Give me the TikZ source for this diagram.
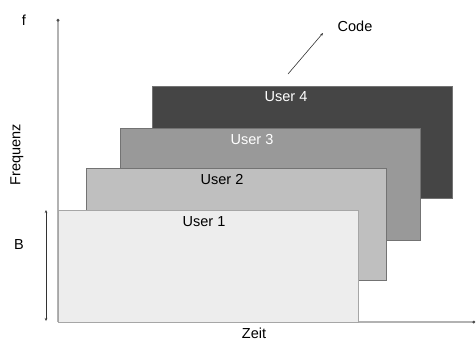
\documentclass[tikz,border=0pt]{standalone}
\usepackage{fontspec}
\setmainfont{Liberation Sans}
\usetikzlibrary{arrows.meta}
\begin{document}
\begin{tikzpicture}[x=1pt,y=-1pt,
  ubox/.style={rectangle, draw=black!55, line width=0.8pt, minimum width=300pt, minimum height=112pt, anchor=north west, inner sep=0pt},
  lbl/.style={font=\fontsize{14.5}{17}\selectfont, inner sep=0pt},
  axis/.style={draw=black!30, line width=1.3pt, -{Circle[length=2.5pt,color=black!70]}},
  thin/.style={draw=black!80, line width=0.6pt}]
\useasboundingbox (0,0) rectangle (476,341);
\coordinate (o) at (58,322);
\coordinate (ytop) at (58,19);
\coordinate (xend) at (475,322);
\draw[axis] (o) -- (ytop);
\draw[axis] (o) -- (xend);
\node[ubox, fill=black!73] (u4) at (152,86) {};
\node[ubox, fill=black!40] (u3) at (120,128) {};
\node[ubox, fill=black!25] (u2) at (86,168) {};
\node[ubox, fill=black!7, draw=black!35] (u1) at (58,210) {};
\node[lbl, text=white] (t4) at (286,97) {User 4};
\node[lbl, text=white] (t3) at (252,140) {User 3};
\node[lbl] (t2) at (222,180) {User 2};
\node[lbl] (t1) at (204,222) {User 1};
\node[lbl] (f) at (24,20) {f};
\node[lbl, rotate=90] (freq) at (17,155) {Frequenz};
\node[lbl] (b) at (19,245) {B};
\node[lbl] (zeit) at (254,333.5) {Zeit};
\node[lbl] (code) at (355,26) {Code};
\coordinate (bt) at (46,210);
\coordinate (bb) at (46,321);
\draw[thin, {Stealth[length=3pt,width=2.5pt]}-{Stealth[length=3pt,width=2.5pt]}] (bt) -- (bb);
\coordinate (cs) at (288,74);
\coordinate (ce) at (323,33);
\draw[thin, -{Stealth[length=3pt,width=2.5pt]}] (cs) -- (ce);
\end{tikzpicture}
\end{document}
